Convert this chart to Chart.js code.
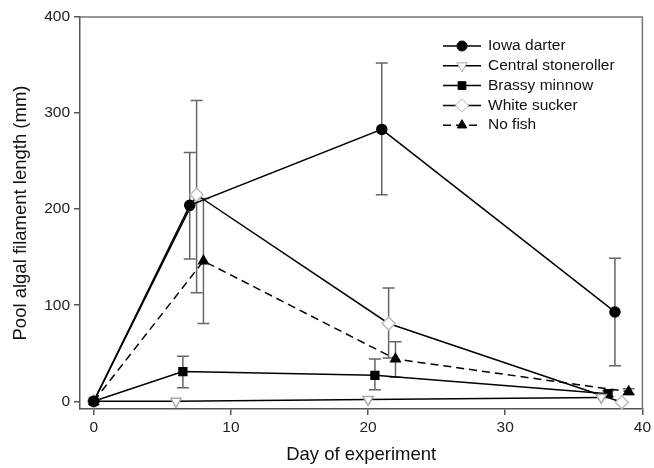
<!DOCTYPE html>
<html>
<head>
<meta charset="utf-8">
<script src="https://cdn.jsdelivr.net/npm/chart.js@4.4.0/dist/chart.umd.min.js"></script>
<style>
  html, body { margin: 0; padding: 0; background: #fff; }
  canvas { display: block; }
</style>
</head>
<body>
<canvas id="myChart" width="654" height="468"></canvas>
<script>
// Data (day, mean, lower and upper error)
const xTicks = [0, 10, 20, 30, 40];
const yTicks = [0, 100, 200, 300, 400];

const darterDays = [0, 7, 21, 38];
const darterVals = [0, 204, 283, 93];
const darterLow = [0, 148, 215, 37];
const darterHigh = [0, 259, 352, 149];

const stonerollerDays = [0, 6, 20, 37];
const stonerollerVals = [0, 0, 2, 4];

const brassyDays = [0, 6.5, 20.5, 37.5];
const brassyVals = [0, 31, 27, 8];
const brassyLow = [0, 14, 12, 5];
const brassyHigh = [0, 47, 44, 11];

const suckerDays = [0, 7.5, 21.5, 38.5];
const suckerVals = [0, 215, 81, -1];
const suckerLow = [0, 113, 45, -1];
const suckerHigh = [0, 313, 118, -1];

const noFishDays = [0, 8, 22, 39];
const noFishVals = [0, 146, 44, 10];
const noFishLow = [0, 81, 25, 7];
const noFishHigh = [0, 211, 62, 13];

const FONT = '"Liberation Sans", Arial, sans-serif';

function points(days, vals) {
    return days.map((d, i) => ({ x: d, y: vals[i] }));
}

// Draw error bars under the markers, plus frame and legend on top
const errorBars = {
    id: 'errorBars',
    beforeDatasetsDraw(chart) {
        const ctx = chart.ctx;
        const xs = chart.scales.x;
        const ys = chart.scales.y;
        ctx.save();
        ctx.strokeStyle = '#666';
        ctx.lineWidth = 1.5;
        chart.data.datasets.forEach(ds => {
            if (!ds.errLow) return;
            ds.data.forEach((p, i) => {
                const lo = ds.errLow[i], hi = ds.errHigh[i];
                if (lo === hi) return;
                const px = xs.getPixelForValue(p.x);
                const y1 = ys.getPixelForValue(lo);
                const y2 = ys.getPixelForValue(hi);
                ctx.beginPath();
                ctx.moveTo(px, y1); ctx.lineTo(px, y2);
                ctx.moveTo(px - 6, y1); ctx.lineTo(px + 6, y1);
                ctx.moveTo(px - 6, y2); ctx.lineTo(px + 6, y2);
                ctx.stroke();
            });
        });
        ctx.restore();
    },
    afterDraw(chart) {
        const ctx = chart.ctx;
        const a = chart.chartArea;
        ctx.save();
        // top and right frame
        ctx.strokeStyle = '#777';
        ctx.lineWidth = 1.5;
        ctx.beginPath();
        ctx.moveTo(a.left, a.top); ctx.lineTo(a.right, a.top); ctx.lineTo(a.right, a.bottom);
        ctx.stroke();

        // legend
        let y = 46;
        chart.data.datasets.forEach(ds => {
            ctx.strokeStyle = '#000';
            ctx.lineWidth = 1.5;
            ctx.setLineDash(ds.borderDash || []);
            ctx.beginPath();
            ctx.moveTo(443, y); ctx.lineTo(481, y);
            ctx.stroke();
            ctx.setLineDash([]);
            drawMarker(ctx, ds, 462, y);
            ctx.fillStyle = '#111';
            ctx.font = '15.5px ' + FONT;
            ctx.textBaseline = 'middle';
            ctx.fillText(ds.label, 488, y);
            y += 19.8;
        });
        ctx.restore();
    }
};

function drawMarker(ctx, ds, x, y) {
    ctx.save();
    ctx.fillStyle = ds.pointBackgroundColor;
    ctx.strokeStyle = ds.pointBorderColor;
    ctx.lineWidth = 1;
    Chart.helpers.drawPoint(ctx, {
        pointStyle: ds.pointStyle,
        radius: ds.pointRadius,
        rotation: ds.pointRotation || 0,
        borderWidth: 1
    }, x, y);
    ctx.restore();
}

const ctx = document.getElementById('myChart').getContext('2d');

new Chart(ctx, {
    type: 'line',
    data: {
        datasets: [{
            label: 'Iowa darter',
            data: points(darterDays, darterVals),
            errLow: darterLow, errHigh: darterHigh,
            borderColor: '#000', borderWidth: 1.5,
            pointStyle: 'circle', pointRadius: 5,
            pointBackgroundColor: '#000', pointBorderColor: '#000'
        }, {
            label: 'Central stoneroller',
            data: points(stonerollerDays, stonerollerVals),
            borderColor: '#000', borderWidth: 1.5,
            pointStyle: 'triangle', pointRotation: 180, pointRadius: 6,
            pointBackgroundColor: '#fff', pointBorderColor: '#aaa'
        }, {
            label: 'Brassy minnow',
            data: points(brassyDays, brassyVals),
            errLow: brassyLow, errHigh: brassyHigh,
            borderColor: '#000', borderWidth: 1.5,
            pointStyle: 'rect', pointRadius: 5.5,
            pointBackgroundColor: '#000', pointBorderColor: '#000'
        }, {
            label: 'White sucker',
            data: points(suckerDays, suckerVals),
            errLow: suckerLow, errHigh: suckerHigh,
            borderColor: '#000', borderWidth: 1.5,
            pointStyle: 'rectRot', pointRadius: 6.5,
            pointBackgroundColor: '#fff', pointBorderColor: '#bbb'
        }, {
            label: 'No fish',
            data: points(noFishDays, noFishVals),
            errLow: noFishLow, errHigh: noFishHigh,
            borderColor: '#000', borderWidth: 1.5, borderDash: [8, 5],
            pointStyle: 'triangle', pointRadius: 5.5,
            pointBackgroundColor: '#000', pointBorderColor: '#000'
        }]
    },
    options: {
        responsive: false,
        devicePixelRatio: 1,
        animation: false,
        layout: { padding: { top: 17, right: 11, left: 0, bottom: 0 } },
        plugins: {
            legend: { display: false },
            tooltip: { enabled: false }
        },
        scales: {
            x: {
                type: 'linear',
                min: -1, max: 40,
                afterBuildTicks: s => { s.ticks = xTicks.map(v => ({ value: v })); },
                afterFit: s => { s.height = 59; },
                title: {
                    display: true, text: 'Day of experiment',
                    color: '#111', font: { family: FONT, size: 18.5 },
                    padding: { top: 4, bottom: 2 }
                },
                ticks: { color: '#222', font: { family: FONT, size: 15.5 }, padding: 3 },
                grid: { drawOnChartArea: false, tickLength: 6, color: '#555', lineWidth: 1.5 },
                border: { color: '#555', width: 1.5 }
            },
            y: {
                min: -8, max: 400,
                afterBuildTicks: s => { s.ticks = yTicks.map(v => ({ value: v })); },
                afterFit: s => { s.width = 80; },
                title: {
                    display: true, text: 'Pool algal filament length (mm)',
                    color: '#111', font: { family: FONT, size: 18.5 },
                    padding: { top: 10, bottom: 4 }
                },
                ticks: { color: '#222', font: { family: FONT, size: 15.5 }, padding: 4 },
                grid: { drawOnChartArea: false, tickLength: 6, color: '#555', lineWidth: 1.5 },
                border: { color: '#555', width: 1.5 }
            }
        }
    },
    plugins: [errorBars]
});
</script>
</body>
</html>
